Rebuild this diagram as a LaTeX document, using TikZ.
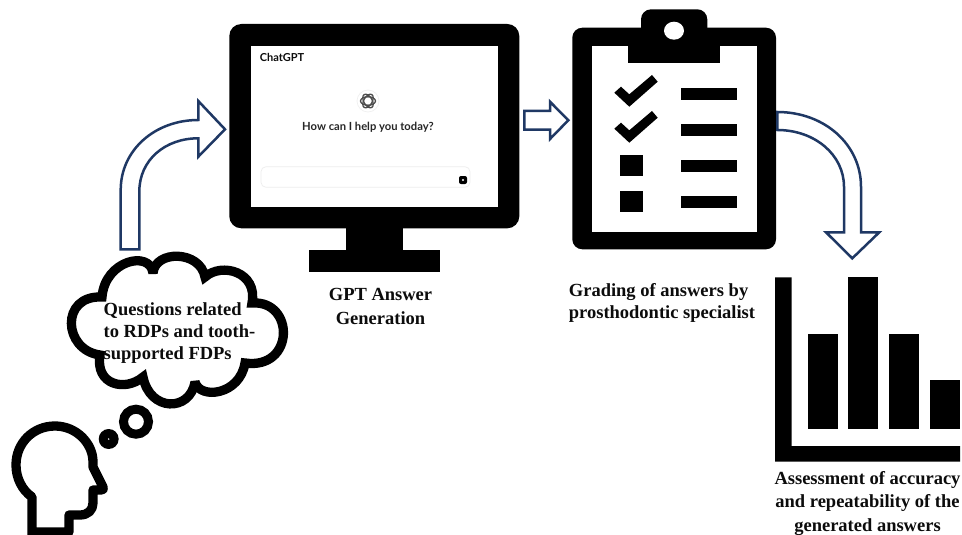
\documentclass[tikz,border=0pt]{standalone}
\usepackage{fontspec}
\setmainfont{Liberation Serif}
\newfontfamily\uifont{Lato}
\definecolor{navy}{HTML}{1F3864}
\definecolor{ink}{HTML}{0C0C0C}
\tikzset{
  icon/.style={fill=black,draw=none},
  hollow/.style={draw=navy,line width=2.5pt,fill=white,line join=miter},
  thick outline/.style={draw=black,line width=9.3pt,fill=white,line join=round},
  caption/.style={font=\bfseries\fontsize{18.5}{22.5}\selectfont,align=center,text=ink,inner sep=0pt},
}
\begin{document}
\begin{tikzpicture}[x=1pt,y=-1pt]
\useasboundingbox (0,0) rectangle (962,535);
\fill[white] (0,0) rectangle (962,535);
% monitor
\fill[icon,rounded corners=12pt] (229.3,24) rectangle (519.3,228.3);
\fill[white] (250.7,46) rectangle (497.7,206.7);
\fill[icon] (345.7,228) rectangle (403,250);
\fill[icon] (308.7,250) rectangle (439.7,272.3);
\node[font=\uifont\bfseries\fontsize{11}{12}\selectfont,text=ink,inner sep=0pt] (brand) at (282,57) {ChatGPT};
\node[circle,minimum size=22pt,draw=black!6,line width=.7pt,inner sep=0pt] (logo) at (368,101) {};
\foreach \a in {0,60,120}{\draw[black!70,line width=1.3pt,rotate around={\a:(368,101)}] (368,101) ellipse (7.5pt and 4.2pt);}
\node[font=\uifont\bfseries\fontsize{11.2}{14}\selectfont,text=black!85,inner sep=0pt] (prompt) at (368,127.5) {How can I help you today?};
\draw[black!7,line width=.7pt,rounded corners=5pt] (261,166.7) rectangle (470,187.3);
\fill[icon,rounded corners=2pt] (459,176) rectangle (467,184);
\fill[white] (463,180) circle (1.2pt);
% clipboard
\fill[icon,rounded corners=10pt] (572.3,27.7) rectangle (776,249.3);
\fill[white] (591.7,45.7) rectangle (756.7,231.7);
\fill[icon] (627.7,40) rectangle (720.3,63.3);
\fill[icon,rounded corners=10pt] (641,40) -- (641,9.3) -- (707.3,9.3) -- (707.3,40) -- cycle;
\fill[white] (674,30.7) ellipse (10pt and 9pt);
\foreach \dy in {0,36}{
  \fill[icon,shift={(0,\dy)}] (614.3,92.7) -- (621,86.7) -- (629.3,94.3) -- (652,75) -- (657.7,81.7) -- (629.3,106.7) -- cycle;}
\fill[icon] (619.7,155) rectangle (643,176);
\fill[icon] (619.7,191) rectangle (643,212);
\foreach \dy in {0,36,72,108}{
  \fill[icon] (680.7,87.7+\dy) rectangle (736.7,99.7+\dy);}
% arrows
\path[hollow] (120.7,249.3) -- (120.7,190) .. controls (120.7,150) and (155,120) .. (198.3,120) -- (198.3,101) -- (225,129.3) -- (198.3,156.7) -- (198.3,138.3) .. controls (165,138.3) and (139.3,160) .. (139.3,191.7) -- (139.3,249.3) -- cycle;
\path[hollow] (524.3,111) -- (550,111) -- (550,101.7) -- (568.3,120.3) -- (550,139) -- (550,129.7) -- (524.3,129.7) -- cycle;
\path[hollow] (777.3,112) .. controls (825,112) and (861,145) .. (861,186.7) -- (861,232.3) -- (879.3,232.3) -- (852.3,258.3) -- (826,232.3) -- (844,232.3) -- (844,186.7) .. controls (844,155) and (815,130) .. (777.3,130) -- cycle;
% cloud
\path[thick outline,line join=miter,miter limit=3] (153,273) .. controls (155,250) and (200,250) .. (205,277)
  .. controls (222,262) and (258,272) .. (252,303)
  .. controls (295,300) and (295,370) .. (245,363)
  .. controls (240,395) and (200,400) .. (195,382)
  .. controls (190,412) and (150,412) .. (143,377)
  .. controls (125,392) and (95,385) .. (100,355)
  .. controls (63,350) and (60,295) .. (102,297)
  .. controls (105,260) and (150,250) .. (153,273) -- cycle;
\node[caption,align=left,font=\bfseries\fontsize{18.5}{22}\selectfont] (question) at (179.5,333) {Questions related\\to RDPs and tooth-\\supported FDPs};
% thought bubbles
\draw[black,line width=9pt] (136,421.7) circle (12.5pt);
\fill[icon] (108.7,439) circle (10pt);
\fill[white] (108.7,439) circle (.8pt);
% head
\path[thick outline] (32,540) -- (32,497) .. controls (22,490) and (16,478) .. (16,465) .. controls (16,443) and (33,426) .. (55,426) .. controls (76,426) and (93,443) .. (93,462) -- (93,467) -- (103,487) .. controls (104,489) and (103,490) .. (101,490) -- (93,490) -- (93,503) .. controls (93,510) and (88,515) .. (80,515) -- (69,515) -- (69,532) -- (32,532);
% chart
\fill[icon] (775,277.3) -- (791.7,277.3) -- (791.7,446) -- (960,446) -- (960,461.7) -- (775,461.7) -- cycle;
\fill[icon] (807.7,334) rectangle (837.7,429);
\fill[icon] (848.3,277.3) rectangle (878.3,429);
\fill[icon] (889.3,334) rectangle (919.3,429);
\fill[icon] (930,380) rectangle (960,429);
% captions
\node[caption,font=\bfseries\fontsize{18.5}{24}\selectfont] (gen) at (380.5,306) {GPT Answer\\Generation};
\node[caption,align=left,font=\bfseries\fontsize{18.5}{22}\selectfont] (grade) at (662,302.5) {Grading of answers by\\prosthodontic specialist};
\node[caption,font=\bfseries\fontsize{18.5}{23.5}\selectfont] (assess) at (867.5,503.5) {Assessment of accuracy\\and repeatability of the\\generated answers};
\end{tikzpicture}
\end{document}
